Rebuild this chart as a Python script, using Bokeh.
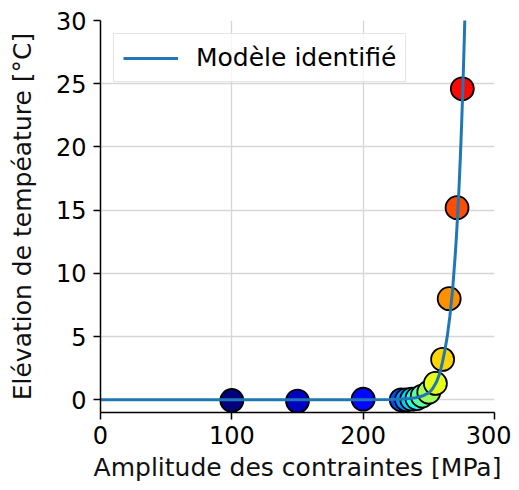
from bokeh.plotting import figure
from bokeh.models import Range1d, FixedTicker, Legend, LegendItem
from bokeh.embed import file_html
from bokeh.resources import INLINE

# measured points (stress amplitude [MPa], temperature rise [°C])
stress = [100, 150, 200, 229, 233, 237, 241, 245, 250, 255, 260.5, 265.5, 271.5, 275.5]
temp = [-0.05, -0.1, 0.05, 0.0, 0.0, 0.05, 0.1, 0.3, 0.6, 1.3, 3.2, 8.0, 15.2, 24.6]

# identified model curve
model_x = [0, 200, 220, 230, 235, 240, 245, 250, 253, 256, 258, 260, 262, 264, 266,
           268, 270, 271, 272, 273, 274, 275, 276, 277, 278]
model_y = [0, 0.01, 0.03, 0.06, 0.1, 0.17, 0.3, 0.55, 0.9, 1.45, 2.0, 2.8, 3.8, 5.0, 6.6,
           8.6, 11.3, 12.9, 14.8, 16.8, 19.2, 21.9, 25.0, 28.5, 32.5]

x_ticks = [0, 100, 200, 300]
y_ticks = [0, 5, 10, 15, 20, 25, 30]


def jet(t):
    def c(v):
        return max(0.0, min(1.0, v))
    r = c(1.5 - abs(4 * t - 3))
    g = c(1.5 - abs(4 * t - 2))
    b = c(1.5 - abs(4 * t - 1))
    return "#%02x%02x%02x" % (int(r * 255), int(g * 255), int(b * 255))


n_colors = 16
colors = [jet(i / (n_colors - 1)) for i in range(len(stress))]

FONT = "DejaVu Sans"

p = figure(output_backend="svg", toolbar_location=None,
           frame_width=394, frame_height=392,
           min_border_left=100, min_border_top=20, min_border_right=17, min_border_bottom=70,
           x_range=Range1d(0, 300), y_range=Range1d(-1, 30))
p.outline_line_color = None
p.background_fill_color = "white"

for ax in (p.xaxis[0], p.yaxis[0]):
    ax.axis_line_color = "black"
    ax.axis_line_width = 1.5
    ax.major_tick_line_color = "black"
    ax.major_tick_line_width = 1.5
    ax.major_tick_out = 7
    ax.major_tick_in = 0
    ax.minor_tick_line_color = None
    ax.major_label_text_font = FONT
    ax.major_label_text_font_size = "24px"
    ax.major_label_text_color = "black"
    ax.axis_label_text_font = FONT
    ax.axis_label_text_font_size = "25px"
    ax.axis_label_text_font_style = "normal"
    ax.axis_label_text_color = "#111111"

p.xaxis[0].ticker = FixedTicker(ticks=x_ticks)
p.yaxis[0].ticker = FixedTicker(ticks=y_ticks)
p.xaxis[0].axis_label = "Amplitude des contraintes [MPa]"
p.yaxis[0].axis_label = "Elévation de tempéature [°C]"
p.xaxis[0].axis_label_standoff = 6
p.yaxis[0].axis_label_standoff = 16
p.xaxis[0].major_label_standoff = 6
p.yaxis[0].major_label_standoff = 7

p.xgrid.grid_line_color = "#d6d6d6"
p.ygrid.grid_line_color = "#d6d6d6"
p.xgrid.grid_line_width = 1.3
p.ygrid.grid_line_width = 1.3

p.scatter(stress, temp, size=23, fill_color=colors, line_color="black", line_width=1.8)
line = p.line(model_x, model_y, line_color="#1f77b4", line_width=3)

legend = Legend(items=[LegendItem(label="Modèle identifié", renderers=[line])],
                location="top_left")
legend.margin = 13
legend.padding = 9
legend.spacing = 0
legend.glyph_width = 55
legend.glyph_height = 26
legend.label_standoff = 18
legend.label_text_font = FONT
legend.label_text_font_size = "25px"
legend.label_text_color = "black"
legend.border_line_color = "#cccccc"
legend.border_line_width = 1.2
legend.background_fill_alpha = 0.8
p.add_layout(legend, "center")

open("out.html", "w").write(file_html(p, INLINE))
